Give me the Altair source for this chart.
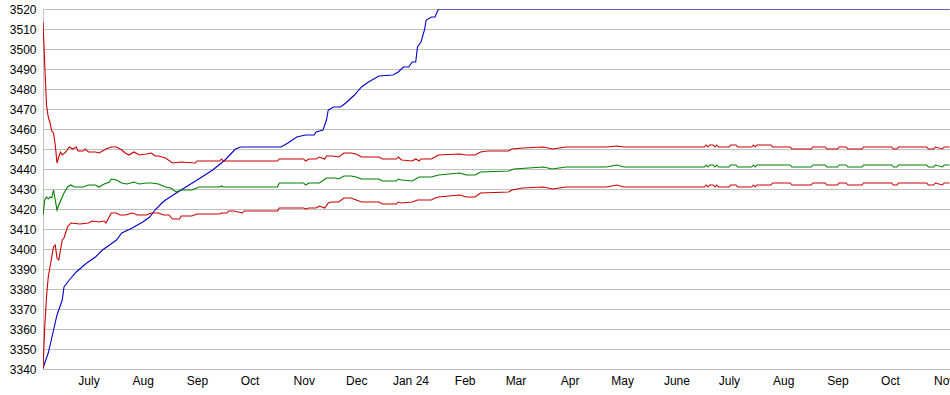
import altair as alt
import pandas as pd

# ---- data ----
blue_dates = ["2023-06-05", "2023-06-08", "2023-06-10", "2023-06-13", "2023-06-16", "2023-06-17",
              "2023-06-20", "2023-06-24", "2023-06-30", "2023-07-05", "2023-07-09", "2023-07-13",
              "2023-07-17", "2023-07-20", "2023-07-26", "2023-08-01", "2023-08-05", "2023-08-08",
              "2023-08-12", "2023-08-14", "2023-08-22", "2023-09-02", "2023-09-10", "2023-09-17",
              "2023-09-23", "2023-09-26", "2023-10-19", "2023-10-23", "2023-10-28", "2023-11-02",
              "2023-11-07", "2023-11-08", "2023-11-12", "2023-11-14", "2023-11-15", "2023-11-18",
              "2023-11-22", "2023-11-25", "2023-11-30", "2023-12-04", "2023-12-08", "2023-12-14",
              "2023-12-22", "2023-12-25", "2023-12-28", "2023-12-31", "2024-01-02", "2024-01-04",
              "2024-01-05", "2024-01-07", "2024-01-09", "2024-01-10", "2024-01-13", "2024-01-15",
              "2024-01-17", "2024-11-04"]
blue_vals = [3340.5, 3348, 3355.5, 3367, 3374.5, 3381,
             3384.5, 3388.5, 3393, 3396, 3399.5, 3402,
             3404.5, 3408, 3410.5, 3413.5, 3416, 3419.5,
             3423, 3424.5, 3429, 3435, 3439.5, 3444.5,
             3450, 3451, 3451, 3453, 3456, 3457,
             3457, 3458.5, 3459.5, 3464.5, 3469.5, 3471,
             3471, 3473, 3477, 3481, 3483.5, 3486.5,
             3487, 3488.5, 3491, 3491, 3493.5, 3493.5,
             3501, 3503.5, 3509.5, 3514.5, 3516, 3516,
             3520, 3520]

# late-period wiggle dates shared by the three flat series
late_dates = ["2024-06-17", "2024-06-18", "2024-06-19", "2024-06-20", "2024-06-22", "2024-06-23",
              "2024-06-24", "2024-06-25", "2024-07-01", "2024-07-02", "2024-07-05", "2024-07-06",
              "2024-07-14", "2024-07-15", "2024-07-16", "2024-07-17", "2024-07-25", "2024-07-26",
              "2024-08-05", "2024-08-06", "2024-08-17", "2024-08-18", "2024-08-25", "2024-08-26",
              "2024-09-01", "2024-09-02", "2024-09-06", "2024-09-07", "2024-09-15", "2024-09-16",
              "2024-10-02", "2024-10-03", "2024-10-05", "2024-10-06", "2024-10-22", "2024-10-23",
              "2024-10-26", "2024-10-27", "2024-10-31", "2024-11-01", "2024-11-04"]

hi_dates = ["2023-06-05", "2023-06-06", "2023-06-07", "2023-06-08", "2023-06-09", "2023-06-10",
            "2023-06-11", "2023-06-12", "2023-06-13", "2023-06-14", "2023-06-15", "2023-06-16",
            "2023-06-18", "2023-06-20", "2023-06-22", "2023-06-24", "2023-06-25", "2023-06-28",
            "2023-06-29", "2023-07-01", "2023-07-05", "2023-07-07", "2023-07-09", "2023-07-11",
            "2023-07-14", "2023-07-17", "2023-07-20", "2023-07-22", "2023-07-24", "2023-07-27",
            "2023-07-30", "2023-08-03", "2023-08-06", "2023-08-08", "2023-08-10", "2023-08-14",
            "2023-08-18", "2023-08-23", "2023-08-31", "2023-09-01", "2023-09-14", "2023-09-15",
            "2023-09-16", "2023-10-17", "2023-10-18", "2023-11-01", "2023-11-02", "2023-11-04",
            "2023-11-08", "2023-11-10", "2023-11-13", "2023-11-14", "2023-11-17", "2023-11-21",
            "2023-11-24", "2023-11-28", "2023-12-01", "2023-12-04", "2023-12-14", "2023-12-16",
            "2023-12-24", "2023-12-25", "2023-12-27", "2024-01-02", "2024-01-04", "2024-01-06",
            "2024-01-07", "2024-01-13", "2024-01-15", "2024-01-17", "2024-01-29", "2024-02-02",
            "2024-02-07", "2024-02-10", "2024-02-14", "2024-02-26", "2024-02-28", "2024-03-05",
            "2024-03-17", "2024-03-22", "2024-03-30", "2024-04-22", "2024-04-28", "2024-05-02"] + late_dates
hi_vals = [3513.5, 3492, 3472, 3466, 3463, 3459,
           3458, 3452, 3443, 3446, 3448.5, 3447,
           3448.5, 3451, 3450, 3451, 3449, 3449,
           3450, 3448.5, 3448.5, 3448, 3449, 3450,
           3451, 3451, 3449.5, 3448, 3447, 3448.5,
           3447, 3447.5, 3448, 3446.5, 3446.5, 3445.5,
           3443, 3443.5, 3443, 3444, 3444, 3445,
           3444, 3444, 3445, 3445, 3444, 3445,
           3445, 3446, 3445, 3446.5, 3446.5, 3446,
           3448, 3448, 3447.5, 3446, 3446, 3445,
           3445, 3446, 3444.5, 3444, 3445, 3444,
           3445, 3445, 3446, 3447, 3447.5, 3447,
           3447, 3448.5, 3449, 3449, 3450, 3450.5,
           3451, 3450, 3451, 3451, 3451.5, 3451,
           3451, 3452, 3451, 3452, 3452, 3451,
           3452, 3451, 3451, 3452, 3452, 3451,
           3451, 3452, 3451, 3452, 3452, 3451,
           3451, 3450, 3450, 3451, 3451, 3450,
           3450, 3451, 3451, 3450, 3450, 3451,
           3451, 3450, 3450, 3451, 3451, 3450,
           3450, 3451, 3450, 3451, 3451]

mid_dates = ["2023-06-05", "2023-06-06", "2023-06-07", "2023-06-08", "2023-06-09", "2023-06-10",
             "2023-06-11", "2023-06-12", "2023-06-13", "2023-06-14", "2023-06-16", "2023-06-17",
             "2023-06-19", "2023-06-21", "2023-06-23", "2023-06-28", "2023-07-01", "2023-07-05",
             "2023-07-07", "2023-07-10", "2023-07-13", "2023-07-14", "2023-07-17", "2023-07-20",
             "2023-07-23", "2023-07-27", "2023-07-30", "2023-08-03", "2023-08-06", "2023-08-10",
             "2023-08-14", "2023-08-17", "2023-08-20", "2023-08-23", "2023-08-29", "2023-09-01",
             "2023-09-02", "2023-09-14", "2023-09-15", "2023-09-16", "2023-10-17", "2023-10-18",
             "2023-11-01", "2023-11-02", "2023-11-04", "2023-11-10", "2023-11-14", "2023-11-19",
             "2023-11-21", "2023-11-24", "2023-11-28", "2023-12-01", "2023-12-04", "2023-12-14",
             "2023-12-16", "2023-12-24", "2023-12-25", "2023-12-27", "2024-01-02", "2024-01-06",
             "2024-01-13", "2024-01-17", "2024-01-29", "2024-02-02", "2024-02-07", "2024-02-10",
             "2024-02-26", "2024-02-29", "2024-03-17", "2024-03-22", "2024-03-30", "2024-04-22",
             "2024-04-28", "2024-05-02"] + late_dates
mid_vals = [3417, 3424.5, 3426, 3425, 3426, 3425.5,
            3429.5, 3424.5, 3419.5, 3422, 3426, 3428,
            3431, 3432, 3431, 3431, 3432, 3432,
            3431, 3432.5, 3433.5, 3435, 3434.5, 3433,
            3432.5, 3433.5, 3432.5, 3433, 3433, 3432.5,
            3431, 3430.5, 3428.5, 3429.5, 3429.5, 3430.5,
            3431, 3431, 3431.5, 3431, 3431, 3433,
            3433, 3432, 3433, 3433, 3435.5, 3435.5,
            3435, 3436.5, 3436.5, 3436, 3435, 3435,
            3434, 3434, 3435, 3434.5, 3434, 3436,
            3436, 3437, 3438, 3437, 3437, 3438.5,
            3439, 3440, 3441, 3440, 3441, 3441,
            3442, 3441,
            3441, 3442, 3441, 3442, 3442, 3441,
            3442, 3441, 3441, 3442, 3442, 3441,
            3441, 3442, 3441, 3442, 3442, 3442,
            3442, 3441, 3441, 3442, 3442, 3441,
            3441, 3442, 3442, 3441, 3441, 3442,
            3442, 3441, 3441, 3442, 3442, 3441,
            3441, 3442, 3441, 3442, 3442]

lo_dates = ["2023-06-05", "2023-06-06", "2023-06-07", "2023-06-08", "2023-06-09", "2023-06-10",
            "2023-06-11", "2023-06-12", "2023-06-13", "2023-06-14", "2023-06-16", "2023-06-17",
            "2023-06-19", "2023-06-21", "2023-06-26", "2023-07-01", "2023-07-03", "2023-07-07",
            "2023-07-10", "2023-07-11", "2023-07-14", "2023-07-17", "2023-07-19", "2023-07-22",
            "2023-07-26", "2023-07-29", "2023-08-03", "2023-08-06", "2023-08-10", "2023-08-13",
            "2023-08-16", "2023-08-18", "2023-08-22", "2023-08-23", "2023-08-29", "2023-09-01",
            "2023-09-14", "2023-09-15", "2023-09-18", "2023-09-19", "2023-09-22", "2023-09-27",
            "2023-09-28", "2023-10-17", "2023-10-18", "2023-11-01", "2023-11-02", "2023-11-04",
            "2023-11-08", "2023-11-10", "2023-11-13", "2023-11-15", "2023-11-17", "2023-11-21",
            "2023-11-24", "2023-11-28", "2023-12-01", "2023-12-04", "2023-12-14", "2023-12-16",
            "2023-12-24", "2023-12-25", "2023-12-27", "2024-01-02", "2024-01-05", "2024-01-13",
            "2024-01-15", "2024-01-17", "2024-01-29", "2024-02-02", "2024-02-07", "2024-02-10",
            "2024-02-26", "2024-02-28", "2024-03-05", "2024-03-17", "2024-03-22", "2024-03-30",
            "2024-04-22", "2024-04-28", "2024-05-02"] + late_dates
lo_vals = [3340, 3361, 3376, 3386, 3391, 3396,
           3401, 3402, 3395.5, 3394.5, 3404.5, 3405.5,
           3411, 3413, 3412.5, 3413, 3414, 3413.5,
           3414, 3413, 3418, 3418, 3417, 3417,
           3418, 3417, 3417, 3418, 3418, 3417,
           3417, 3415, 3415, 3416.5, 3416.5, 3417.5,
           3417.5, 3418, 3418, 3419, 3419, 3418,
           3419, 3419, 3420.5, 3420.5, 3420, 3420.5,
           3420.5, 3421.5, 3420.5, 3423, 3423.5, 3423.5,
           3425.5, 3425.5, 3424.5, 3423.5, 3423.5, 3422.5,
           3422.5, 3423.5, 3423, 3423.5, 3424.5, 3424.5,
           3425.5, 3426, 3427, 3426, 3426, 3428,
           3428.5, 3429.5, 3430.5, 3431, 3430, 3431,
           3431, 3432, 3431,
           3431, 3432, 3431, 3432, 3432, 3431,
           3432, 3431, 3431, 3432, 3432, 3431,
           3431, 3432, 3431, 3432, 3432, 3433,
           3433, 3432, 3432, 3433, 3433, 3432,
           3432, 3433, 3433, 3432, 3432, 3433,
           3433, 3432, 3432, 3433, 3433, 3432,
           3432, 3433, 3432, 3433, 3433]

series_names = ["blue", "upper", "middle", "lower"]
series_colors = ["#0000cc", "#cc0000", "#007f00", "#cc0000"]
tick_months = [(2023, 7), (2023, 8), (2023, 9), (2023, 10), (2023, 11), (2023, 12),
               (2024, 1), (2024, 2), (2024, 3), (2024, 4), (2024, 5), (2024, 6),
               (2024, 7), (2024, 8), (2024, 9), (2024, 10), (2024, 11)]
y_ticks = list(range(3340, 3521, 10))

rows = []
for name, ds, vs in [("blue", blue_dates, blue_vals), ("upper", hi_dates, hi_vals),
                     ("middle", mid_dates, mid_vals), ("lower", lo_dates, lo_vals)]:
    assert len(ds) == len(vs), (name, len(ds), len(vs))
    for d, v in zip(ds, vs):
        rows.append({"date": d + "T00:00:00", "value": v, "series": name})
df = pd.DataFrame(rows)

label_expr = ("month(datum.value)==6 ? 'July' : month(datum.value)==5 ? 'June' : "
              "month(datum.value)==0 ? 'Jan ' + timeFormat(datum.value, '%y') : "
              "timeFormat(datum.value, '%b')")

chart = alt.Chart(df).mark_line(strokeWidth=1.1, clip=True).encode(
    x=alt.X("date:T",
            scale=alt.Scale(domain=[alt.DateTime(year=2023, month=6, date=5),
                                    alt.DateTime(year=2024, month=11, date=4, hours=8)]),
            axis=alt.Axis(values=[alt.DateTime(year=y, month=m, date=1) for y, m in tick_months],
                          labelExpr=label_expr, grid=False, ticks=False, title=None,
                          labelFlush=False, labelOverlap=False, labelPadding=6,
                          domainColor="#c0c0c0", labelAlign="center")),
    y=alt.Y("value:Q", scale=alt.Scale(domain=[3340, 3520], nice=False, zero=False),
            axis=alt.Axis(values=y_ticks, format="d", grid=True, gridColor="#c0c0c0", ticks=False,
                          title=None, labelPadding=7, domainColor="#c0c0c0")),
    color=alt.Color("series:N", scale=alt.Scale(domain=series_names, range=series_colors),
                    legend=None),
).properties(
    width=907, height=360,
    autosize=alt.AutoSizeParams(type="none"),
    padding={"left": 43, "top": 9, "right": 0, "bottom": 26},
).configure_view(strokeWidth=0).configure_axis(
    labelFont="Liberation Sans", labelFontSize=12, labelColor="#000000",
    gridWidth=1, domainWidth=1,
)

chart.save("out.html", embed_options={"renderer": "svg", "actions": False})
